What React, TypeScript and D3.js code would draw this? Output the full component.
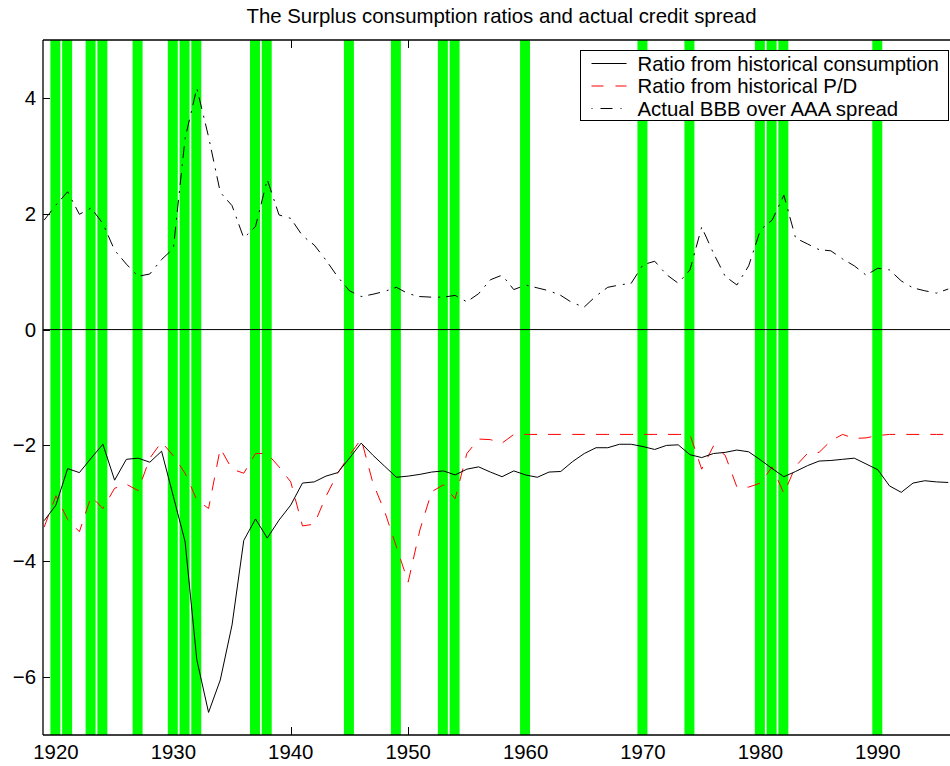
import * as d3 from "d3";
import { useEffect, useRef } from "react";

// annual series, 1919..1996
const firstYear = 1919;

const consumption = [
    -3.30, -3.03, -2.40, -2.47, -2.22, -1.98, -2.60, -2.24, -2.22, -2.29,
    -2.10, -2.88, -3.66, -5.70, -6.61, -6.05, -5.10, -3.64, -3.27, -3.60,
    -3.29, -3.03, -2.65, -2.63, -2.53, -2.47, -2.22, -1.96, -2.17, -2.36,
    -2.55, -2.53, -2.50, -2.46, -2.44, -2.51, -2.41, -2.37, -2.46, -2.54,
    -2.44, -2.51, -2.55, -2.46, -2.45, -2.28, -2.14, -2.04, -2.04, -1.98,
    -1.98, -2.02, -2.07, -2.00, -1.99, -2.16, -2.21, -2.14, -2.12, -2.08,
    -2.11, -2.25, -2.40, -2.54, -2.45, -2.35, -2.27, -2.26, -2.24, -2.22,
    -2.32, -2.42, -2.70, -2.81, -2.65, -2.61, -2.63, -2.64,
];

const pdRatio = [
    -3.41, -2.87, -3.28, -3.49, -2.88, -3.09, -2.74, -2.67, -2.78, -2.22,
    -1.94, -2.18, -2.48, -2.94, -3.09, -2.05, -2.41, -2.48, -2.14, -2.14,
    -2.37, -2.63, -3.39, -3.36, -2.88, -2.48, -2.17, -1.89, -2.65, -3.14,
    -3.75, -4.36, -3.46, -2.80, -2.68, -2.92, -2.14, -1.89, -1.90, -1.96,
    -1.81, -1.81, -1.81, -1.81, -1.81, -1.81, -1.81, -1.81, -1.81, -1.81,
    -1.81, -1.81, -1.81, -1.81, -1.81, -1.81, -2.41, -2.01, -2.17, -2.72,
    -2.72, -2.65, -2.37, -2.83, -2.36, -2.14, -2.12, -1.92, -1.81, -1.88,
    -1.87, -1.83, -1.81, -1.81, -1.81, -1.81, -1.81, -1.81,
];

const bbbSpread = [
    1.89, 2.15, 2.38, 1.99, 2.10, 1.83, 1.37, 1.13, 0.92, 0.96,
    1.21, 1.40, 3.30, 4.17, 3.33, 2.37, 2.14, 1.58, 1.78, 2.59,
    1.98, 1.92, 1.62, 1.46, 1.20, 0.91, 0.67, 0.57, 0.61, 0.66,
    0.73, 0.62, 0.57, 0.56, 0.56, 0.59, 0.48, 0.62, 0.86, 0.94,
    0.69, 0.77, 0.72, 0.67, 0.59, 0.46, 0.39, 0.58, 0.73, 0.77,
    0.80, 1.12, 1.18, 0.95, 0.80, 1.03, 1.77, 1.32, 0.92, 0.77,
    1.10, 1.72, 1.89, 2.32, 1.58, 1.48, 1.38, 1.36, 1.22, 1.10,
    0.94, 1.06, 1.03, 0.84, 0.72, 0.67, 0.63, 0.70,
];

// recession years shaded green
const recessions = [
    1920, 1921, 1923, 1924, 1927, 1930, 1931, 1932, 1937, 1938,
    1945, 1949, 1953, 1954, 1960, 1970, 1974, 1980, 1981, 1982, 1990,
];

const xTicks = [1920, 1930, 1940, 1950, 1960, 1970, 1980, 1990];
const yTicks = [-6, -4, -2, 0, 2, 4];

const legendLabels = [
    "Ratio from historical consumption",
    "Ratio from historical P/D",
    "Actual BBB over AAA spread",
];

const title = "The Surplus consumption ratios and actual credit spread";

export default function App() {
    const ref = useRef(null);

    useEffect(() => {
        document.body.style.margin = "0";

        const svg = d3.select(ref.current);
        svg.selectAll("*").remove();

        const width = 950;
        const height = 766;
        const font = "'Liberation Sans', Arial, Helvetica, sans-serif";
        const fontSize = "20.4px";

        svg.attr("width", width).attr("height", height).style("display", "block");

        // plot box (right edge sits just past the picture)
        const left = 43;
        const top = 40;
        const bottom = 735;
        const right = 960;

        const x = d3.scaleLinear().domain([1918.9, 1997]).range([left, right]);
        const y = d3.scaleLinear().domain([-7, 5]).range([bottom, top]);

        svg.append("rect").attr("width", width).attr("height", height).attr("fill", "white");

        svg.append("defs")
            .append("clipPath")
            .attr("id", "plot-clip")
            .append("rect")
            .attr("x", left)
            .attr("y", top)
            .attr("width", right - left)
            .attr("height", bottom - top);

        // ticks (inside, under the bars)
        const ticks = svg.append("g").attr("stroke", "black").attr("stroke-width", 1);
        yTicks.forEach(t => {
            ticks.append("line")
                .attr("x1", left).attr("x2", left + 7)
                .attr("y1", Math.round(y(t)) + 0.5).attr("y2", Math.round(y(t)) + 0.5);
            ticks.append("line")
                .attr("x1", right - 7).attr("x2", right)
                .attr("y1", Math.round(y(t)) + 0.5).attr("y2", Math.round(y(t)) + 0.5);
        });
        xTicks.forEach(t => {
            const px = Math.round(x(t)) + 0.5;
            ticks.append("line").attr("x1", px).attr("x2", px).attr("y1", bottom).attr("y2", bottom - 8);
            ticks.append("line").attr("x1", px).attr("x2", px).attr("y1", top).attr("y2", top + 8);
        });

        // recession bars
        svg.append("g")
            .selectAll("rect")
            .data(recessions)
            .enter()
            .append("rect")
            .attr("x", d => x(d - 0.47))
            .attr("width", d => x(d + 0.38) - x(d - 0.47))
            .attr("y", top)
            .attr("height", bottom - top)
            .attr("fill", "#00ff00");

        const plot = svg.append("g").attr("clip-path", "url(#plot-clip)");

        // zero line
        plot.append("line")
            .attr("x1", left).attr("x2", right)
            .attr("y1", y(0)).attr("y2", y(0))
            .attr("stroke", "black")
            .attr("stroke-width", 1);

        const line = d3.line()
            .x((d, i) => x(firstYear + i))
            .y(d => y(d));

        plot.append("path")
            .datum(bbbSpread)
            .attr("d", line)
            .attr("fill", "none")
            .attr("stroke", "black")
            .attr("stroke-width", 1)
            .attr("stroke-dasharray", "12,7,2,6");

        plot.append("path")
            .datum(pdRatio)
            .attr("d", line)
            .attr("fill", "none")
            .attr("stroke", "#ff0000")
            .attr("stroke-width", 1)
            .attr("stroke-dasharray", "13,11");

        plot.append("path")
            .datum(consumption)
            .attr("d", line)
            .attr("fill", "none")
            .attr("stroke", "black")
            .attr("stroke-width", 1);

        // axis box lines
        const box = svg.append("g").attr("stroke", "black").attr("stroke-width", 1.3).attr("fill", "none");
        box.append("line").attr("x1", left).attr("x2", left).attr("y1", top).attr("y2", bottom);
        box.append("line").attr("x1", left).attr("x2", right).attr("y1", top).attr("y2", top);
        box.append("line").attr("x1", left).attr("x2", right).attr("y1", bottom).attr("y2", bottom);
        box.append("line").attr("x1", right).attr("x2", right).attr("y1", top).attr("y2", bottom);

        // tick labels
        svg.append("g")
            .selectAll("text")
            .data(xTicks)
            .enter()
            .append("text")
            .attr("x", d => x(d))
            .attr("y", bottom + 24)
            .attr("text-anchor", "middle")
            .style("font-family", font)
            .style("font-size", fontSize)
            .text(d => String(d));

        svg.append("g")
            .selectAll("text")
            .data(yTicks)
            .enter()
            .append("text")
            .attr("x", left - 7)
            .attr("y", d => y(d) + 7)
            .attr("text-anchor", "end")
            .style("font-family", font)
            .style("font-size", fontSize)
            .text(d => (d < 0 ? "\u2212" + Math.abs(d) : String(d)));

        // title
        svg.append("text")
            .attr("x", (left + right) / 2)
            .attr("y", 23)
            .attr("text-anchor", "middle")
            .style("font-family", font)
            .style("font-size", fontSize)
            .text(title);

        // legend
        const legend = svg.append("g").attr("transform", "translate(580.5, 50.5)");
        legend.append("rect")
            .attr("width", 368)
            .attr("height", 70)
            .attr("fill", "white")
            .attr("stroke", "black")
            .attr("stroke-width", 1);

        const styles = [
            { stroke: "black", dash: null },
            { stroke: "#ff0000", dash: "12,12" },
            { stroke: "black", dash: "1,8,12,8" },
        ];

        legendLabels.forEach((label, i) => {
            const ry = 13 + i * 22.5;
            legend.append("line")
                .attr("x1", 11).attr("x2", 46)
                .attr("y1", ry).attr("y2", ry)
                .attr("stroke", styles[i].stroke)
                .attr("stroke-width", 1)
                .attr("stroke-dasharray", styles[i].dash);
            legend.append("text")
                .attr("x", 57)
                .attr("y", ry + 7)
                .style("font-family", font)
                .style("font-size", fontSize)
                .text(label);
        });
    }, []);

    return (
        <div style={{ position: "absolute", left: 0, top: 0 }}>
            <svg ref={ref} />
        </div>
    );
}
